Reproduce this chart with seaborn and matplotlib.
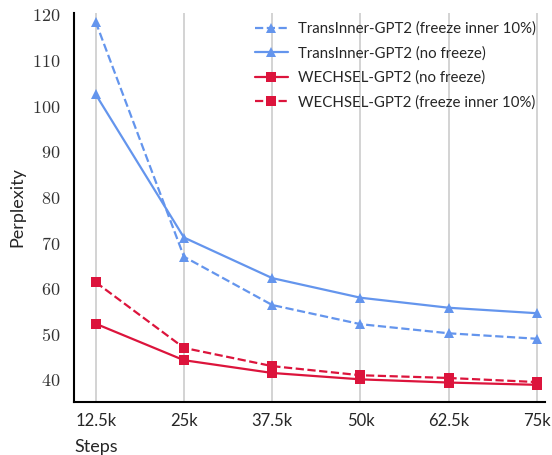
import pandas as pd
import matplotlib
matplotlib.use("Agg")
import matplotlib.pyplot as plt
import seaborn as sns

# data
steps = ["12.5k", "25k", "37.5k", "50k", "62.5k", "75k"]
trans_freeze = [118.5, 67.0, 56.4, 52.2, 50.2, 49.0]
trans_nofreeze = [102.6, 71.2, 62.3, 58.0, 55.8, 54.6]
wechsel_nofreeze = [52.3, 44.3, 41.5, 40.1, 39.4, 38.9]
wechsel_freeze = [61.4, 47.0, 43.0, 41.0, 40.4, 39.5]

series = [
    ("TransInner-GPT2 (freeze inner 10%)", trans_freeze, "#6495ED", "--", "^"),
    ("TransInner-GPT2 (no freeze)", trans_nofreeze, "#6495ED", "-", "^"),
    ("WECHSEL-GPT2 (no freeze)", wechsel_nofreeze, "#DC143C", "-", "s"),
    ("WECHSEL-GPT2 (freeze inner 10%)", wechsel_freeze, "#DC143C", "--", "s"),
]

sns.set_style("white")
plt.rcParams["font.family"] = ["Lato", "DejaVu Sans"]
plt.rcParams["mathtext.fontset"] = "cm"

fig = plt.figure(figsize=(5.52, 4.55), dpi=100)
ax = fig.add_axes([74.3 / 552, 53.3 / 455, (545 - 74.3) / 552, (401.7 - 12.7) / 455])

for name, vals, col, ls, mk in series:
    d = pd.DataFrame({"x": range(len(steps)), "y": vals})
    sns.lineplot(data=d, x="x", y="y", ax=ax, color=col, linestyle=ls,
                 marker=mk, markersize=7.5, markeredgewidth=0, linewidth=1.6,
                 label=name)

ax.set_xlim(-0.242, 5.09)
ax.set_ylim(35.2, 120.5)
ax.set_xticks(range(len(steps)))
ax.set_xticklabels(steps, fontsize=12)
yt = [40, 50, 60, 70, 80, 90, 100, 110, 120]
ax.set_yticks(yt)
ax.set_yticklabels(["$%d$" % v for v in yt], fontsize=13, color="#333333")
ax.tick_params(axis="both", length=0)
ax.tick_params(axis="y", pad=10)
ax.tick_params(axis="x", pad=8)

ax.grid(axis="x", color="#cccccc", linewidth=1.2)
ax.grid(axis="y", visible=False)
for s in ["top", "right"]:
    ax.spines[s].set_visible(False)
for s in ["left", "bottom"]:
    ax.spines[s].set_color("black")
    ax.spines[s].set_linewidth(1.5)

ax.set_ylabel("Perplexity", fontsize=13, labelpad=5)
ax.set_xlabel("Steps", fontsize=13, ha="left")
ax.xaxis.set_label_coords(0.0, -0.095)

leg = ax.legend(loc="upper right", frameon=False, fontsize=10.8, handlelength=2.2,
                handletextpad=0.7, labelspacing=0.68, borderaxespad=0.2,
                bbox_to_anchor=(1.0, 1.0))

fig.savefig("out.png", dpi=100)
